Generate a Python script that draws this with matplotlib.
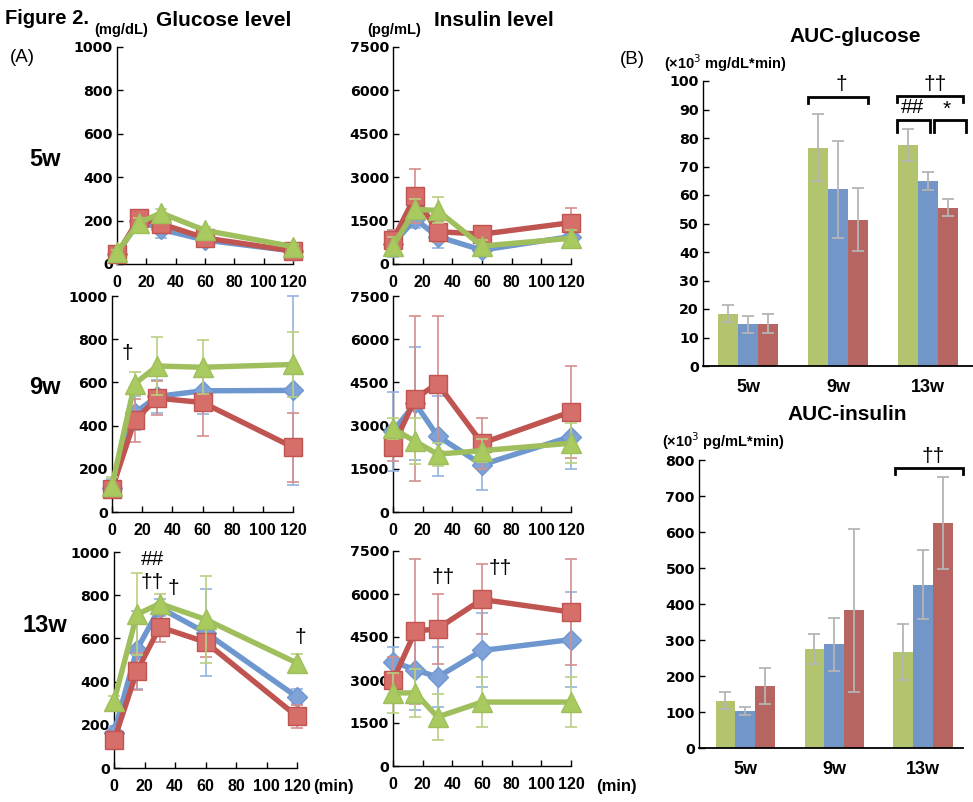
import matplotlib
matplotlib.use("Agg")
import matplotlib.pyplot as plt
import numpy as np

# ---------------- data ----------------
times = [0, 15, 30, 60, 120]
glu_ticks = [0, 200, 400, 600, 800, 1000]
ins_ticks = [0, 1500, 3000, 4500, 6000, 7500]
x_ticks = [0, 20, 40, 60, 80, 100, 120]
weeks = ["5w", "9w", "13w"]

# Glucose (mg/dL) mean / SD
glu_blue_5 = [45, 200, 160, 110, 60]
glu_blue_5_sd = [10, 50, 42, 30, 10]
glu_red_5 = [45, 210, 185, 120, 60]
glu_red_5_sd = [10, 30, 20, 15, 15]
glu_green_5 = [55, 190, 235, 155, 80]
glu_green_5_sd = [10, 20, 20, 15, 10]

glu_blue_9 = [111, 458, 535, 561, 563]
glu_blue_9_sd = [40, 80, 75, 105, 437]
glu_red_9 = [106, 424, 527, 507, 300]
glu_red_9_sd = [30, 100, 78, 155, 160]
glu_green_9 = [122, 593, 676, 670, 683]
glu_green_9_sd = [40, 53, 133, 124, 152]

glu_blue_13 = [164, 548, 742, 627, 329]
glu_blue_13_sd = [30, 180, 40, 200, 35]
glu_red_13 = [128, 448, 653, 583, 239]
glu_red_13_sd = [25, 85, 70, 70, 52]
glu_green_13 = [309, 711, 761, 688, 486]
glu_green_13_sd = [25, 190, 45, 200, 40]

# Insulin (pg/mL) mean / SD
ins_blue_5 = [700, 1550, 950, 480, 950]
ins_blue_5_sd = [470, 300, 380, 150, 400]
ins_red_5 = [830, 2350, 1120, 1030, 1430]
ins_red_5_sd = [350, 950, 350, 250, 500]
ins_green_5 = [620, 1890, 1850, 620, 890]
ins_green_5_sd = [300, 350, 450, 200, 300]

ins_blue_9 = [2810, 3770, 2640, 1640, 2620]
ins_blue_9_sd = [1370, 1960, 1380, 890, 1130]
ins_red_9 = [2270, 3940, 4460, 2390, 3480]
ins_red_9_sd = [490, 2860, 2340, 880, 1600]
ins_green_9 = [2900, 2450, 2010, 2130, 2390]
ins_green_9_sd = [350, 800, 400, 400, 700]

ins_blue_13 = [3630, 3360, 3100, 4030, 4410]
ins_blue_13_sd = [520, 1420, 1040, 1290, 1650]
ins_red_13 = [2990, 4700, 4790, 5810, 5370]
ins_red_13_sd = [800, 2520, 1220, 1220, 1860]
ins_green_13 = [2550, 2550, 1710, 2230, 2230]
ins_green_13_sd = [690, 840, 800, 870, 870]

# AUC (green, blue, red per week)
aucg_green = [18.4, 76.6, 77.4]
aucg_green_sd = [3.0, 11.7, 5.6]
aucg_blue = [14.6, 62.0, 64.8]
aucg_blue_sd = [3.0, 17.0, 3.1]
aucg_red = [14.9, 51.3, 55.6]
aucg_red_sd = [3.2, 11.0, 3.1]
aucg_ticks = list(range(0, 101, 10))

auci_green = [131, 274, 266]
auci_green_sd = [24, 42, 78]
auci_blue = [103, 288, 454]
auci_blue_sd = [12, 74, 96]
auci_red = [173, 382, 624]
auci_red_sd = [50, 226, 128]
auci_ticks = list(range(0, 801, 100))

# ---------------- style ----------------
W, H = 973, 802
fig = plt.figure(figsize=(W / 100, H / 100), dpi=100)
fig.patch.set_facecolor("white")

TXT = "Liberation Sans"
TICKF = "DejaVu Sans"

C_BLUE, C_BLUE_E, C_BLUE_M = "#6E96CF", "#93B2DE", "#7FA3D8"
C_RED, C_RED_E, C_RED_M = "#BF5451", "#D38F8D", "#D66E6A"
C_GREEN, C_GREEN_E, C_GREEN_M = "#9FBF5C", "#B9D082", "#A8CA5E"
B_GREEN, B_BLUE, B_RED = "#B3C46F", "#7396C8", "#B76561"


def px_ax(x0, x1, ytop, ybot):
    return fig.add_axes([x0 / W, 1 - ybot / H, (x1 - x0) / W, (ybot - ytop) / H])


def ftext(x, y, s, **kw):
    fig.text(x / W, 1 - y / H, s, **kw)


def style_axis(ax, yticks, ylim):
    for s in ["top", "right"]:
        ax.spines[s].set_visible(False)
    for s in ["left", "bottom"]:
        ax.spines[s].set_linewidth(1.0)
        ax.spines[s].set_color("black")
    ax.set_ylim(*ylim)
    ax.set_yticks(yticks)
    ax.tick_params(axis="y", direction="in", length=4, width=1, pad=3)
    ax.tick_params(axis="x", direction="in", length=4, width=1, pad=8)
    for lab in ax.get_yticklabels():
        lab.set_fontfamily(TICKF)
        lab.set_fontweight("bold")
        lab.set_fontsize(10.2)
    for lab in ax.get_xticklabels():
        lab.set_fontfamily(TXT)
        lab.set_fontweight("bold")
        lab.set_fontsize(11.5)


def line_panel(ax, blue, bsd, red, rsd, green, gsd, yticks, ymax):
    series = [
        (blue, bsd, C_BLUE, C_BLUE_E, C_BLUE_M, "D", 10.5),
        (red, rsd, C_RED, C_RED_E, C_RED_M, "s", 13.5),
        (green, gsd, C_GREEN, C_GREEN_E, C_GREEN_M, "^", 14.5),
    ]
    z = 3
    for vals, sd, c, ce, cm, mk, ms in series:
        ax.errorbar(times, vals, yerr=sd, fmt="none", ecolor=ce, elinewidth=1.2,
                    capsize=4, capthick=1.2, zorder=z, clip_on=False)
        ax.plot(times, vals, color=c, lw=3.9, marker=mk, ms=ms, mfc=cm,
                mec=c, mew=1.0, zorder=z + 1, clip_on=False,
                solid_joinstyle="round")
        z += 2
    ax.set_xlim(0, 120)
    ax.set_xticks(x_ticks)
    style_axis(ax, yticks, (0, ymax))


# ---------------- line panels ----------------
g5 = px_ax(117, 293, 47, 264)
line_panel(g5, glu_blue_5, glu_blue_5_sd, glu_red_5, glu_red_5_sd,
           glu_green_5, glu_green_5_sd, glu_ticks, 1000)
g9 = px_ax(112, 293, 296, 512)
line_panel(g9, glu_blue_9, glu_blue_9_sd, glu_red_9, glu_red_9_sd,
           glu_green_9, glu_green_9_sd, glu_ticks, 1000)
g13 = px_ax(114, 297, 552, 768)
line_panel(g13, glu_blue_13, glu_blue_13_sd, glu_red_13, glu_red_13_sd,
           glu_green_13, glu_green_13_sd, glu_ticks, 1000)

i5 = px_ax(393, 571, 47, 264)
line_panel(i5, ins_blue_5, ins_blue_5_sd, ins_red_5, ins_red_5_sd,
           ins_green_5, ins_green_5_sd, ins_ticks, 7500)
i9 = px_ax(393, 571, 296, 512)
line_panel(i9, ins_blue_9, ins_blue_9_sd, ins_red_9, ins_red_9_sd,
           ins_green_9, ins_green_9_sd, ins_ticks, 7500)
i13 = px_ax(393, 571, 551, 766)
line_panel(i13, ins_blue_13, ins_blue_13_sd, ins_red_13, ins_red_13_sd,
           ins_green_13, ins_green_13_sd, ins_ticks, 7500)

ann = dict(family=TXT, fontsize=15, ha="center", va="center", zorder=20,
           clip_on=False)
g9.text(10, 736, "\u2020", **ann)
g13.text(25, 965, "##", **ann)
g13.text(25, 860, "\u2020\u2020", **ann)
g13.text(39, 833, "\u2020", **ann)
g13.text(122, 602, "\u2020", **ann)
i13.text(34, 6560, "\u2020\u2020", **ann)
i13.text(72, 6900, "\u2020\u2020", **ann)

# ---------------- bar panels ----------------
def bar_panel(ax, vals, sds, yticks, ymax, xlim):
    x = np.arange(len(weeks))
    bw = 0.222
    cols = [B_GREEN, B_BLUE, B_RED]
    for k, (v, s, c) in enumerate(zip(vals, sds, cols)):
        xx = x + (k - 1) * bw
        ax.bar(xx, v, width=bw, color=c, zorder=2)
        ax.errorbar(xx, v, yerr=s, fmt="none", ecolor="#B5B5B5",
                    elinewidth=1.3, capsize=4, capthick=1.3, zorder=3)
    ax.set_xlim(*xlim)
    ax.set_xticks(x)
    ax.set_xticklabels(weeks)
    style_axis(ax, yticks, (0, ymax))
    ax.tick_params(axis="x", length=0, pad=9)
    for lab in ax.get_xticklabels():
        lab.set_fontsize(13)
    ax.spines["bottom"].set_linewidth(1.3)


def bracket(ax, x0, x1, ytop, ybot):
    ax.plot([x0, x0, x1, x1], [ybot, ytop, ytop, ybot], color="black",
            lw=2.0, clip_on=False, zorder=10, solid_joinstyle="miter")


ag = px_ax(703, 973, 81, 366)
bar_panel(ag, [aucg_green, aucg_blue, aucg_red],
          [aucg_green_sd, aucg_blue_sd, aucg_red_sd], aucg_ticks, 100,
          (-0.5, 2.5))
bracket(ag, 0.672, 1.333, 94.4, 92.2)
bracket(ag, 1.66, 2.39, 94.6, 92.6)
bracket(ag, 1.66, 2.02, 86.2, 82.1)
bracket(ag, 2.07, 2.42, 86.2, 82.1)
ag.text(1.04, 98.6, "\u2020", **ann)
ag.text(2.08, 98.6, "\u2020\u2020", **ann)
ag.text(1.83, 90.6, "##", **ann)
ag.text(2.21, 90.0, "*", **ann)

ai = px_ax(699, 963, 460, 748)
bar_panel(ai, [auci_green, auci_blue, auci_red],
          [auci_green_sd, auci_blue_sd, auci_red_sd], auci_ticks, 800,
          (-0.52, 2.45))
bracket(ai, 1.69, 2.45, 778, 761)
ai.text(2.11, 810, "\u2020\u2020", **ann)

# ---------------- figure texts ----------------
bold = dict(family=TXT, fontweight="bold", va="center")
ftext(5, 18, "Figure 2.", fontsize=14.5, ha="left", **bold)
ftext(94, 30, "(mg/dL)", fontsize=10.5, ha="left", **bold)
ftext(224, 20, "Glucose level", fontsize=15, ha="center", **bold)
ftext(367, 30, "(pg/mL)", fontsize=10.5, ha="left", **bold)
ftext(494, 20, "Insulin level", fontsize=15, ha="center", **bold)
ftext(10, 58, "(A)", family=TXT, fontsize=13.5, ha="left", va="center")
ftext(620, 60, "(B)", family=TXT, fontsize=13.5, ha="left", va="center")
ftext(45, 160, "5w", fontsize=17, ha="center", **bold)
ftext(45, 387, "9w", fontsize=17, ha="center", **bold)
ftext(45, 625, "13w", fontsize=17, ha="center", **bold)
ftext(855, 37, "AUC-glucose", fontsize=15, ha="center", **bold)
ftext(664, 63, "(\u00d710$^{3}$ mg/dL*min)", fontsize=10.5, ha="left", **bold)
ftext(847, 415, "AUC-insulin", fontsize=15, ha="center", **bold)
ftext(662, 441, "(\u00d710$^{3}$ pg/mL*min)", fontsize=10.5, ha="left", **bold)
ftext(313, 787, "(min)", fontsize=12, ha="left", **bold)
ftext(596, 787, "(min)", fontsize=12, ha="left", **bold)

fig.savefig("out.png", dpi=100)
